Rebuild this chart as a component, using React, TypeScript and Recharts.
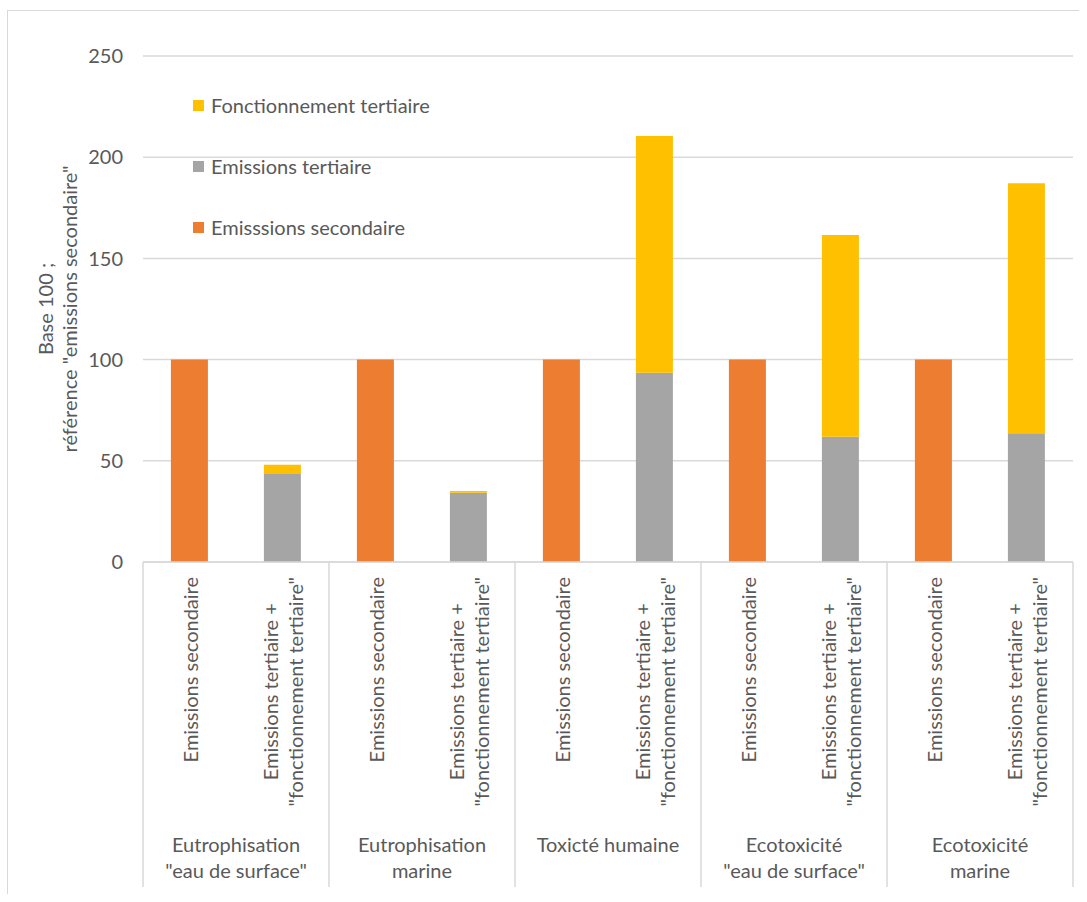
import { Bar, BarChart, CartesianGrid, Legend, XAxis, YAxis } from "recharts";

const groups = [
  "Eutrophisation\n\"eau de surface\"",
  "Eutrophisation\nmarine",
  "Toxicté humaine",
  "Ecotoxicité\n\"eau de surface\"",
  "Ecotoxicité\nmarine",
];
const subLabels = ["Emissions secondaire", "Emissions tertiaire +\n\"fonctionnement tertiaire\""];

const emissionsSecondaire = [100, 100, 100, 100, 100];
const emissionsTertiaire = [43.5, 34.2, 93.5, 61.9, 63.6];
const fonctionnementTertiaire = [4.5, 0.9, 117, 99.7, 123.5];

const yTicks = [0, 50, 100, 150, 200, 250];
const legendOrder = ["Fonctionnement tertiaire", "Emissions tertiaire", "Emisssions secondaire"];

const data = groups.flatMap((g, i) => [
  { group: g, label: subLabels[0], secondaire: emissionsSecondaire[i], tertiaire: null, fonctionnement: null },
  { group: g, label: subLabels[1], secondaire: null, tertiaire: emissionsTertiaire[i], fonctionnement: fonctionnementTertiaire[i] },
]);

const FONT = "Lato, 'Noto Sans', sans-serif";
const TXT = "#595959";
const GRID = "#D9D9D9";
const FS = 20;

let ctx: CanvasRenderingContext2D | null = null;
function measure(s: string, size: number) {
  if (!ctx) ctx = document.createElement("canvas").getContext("2d");
  if (!ctx) return s.length * size * 0.5;
  ctx.font = `${size}px Lato`;
  return ctx.measureText(s).width;
}

function CategoryTick(props: any) {
  const { x, y, payload, index } = props;
  const half = payload.offset ?? 46.5;
  const lines = String(payload.value).split("\n");
  const maxW = Math.max(...lines.map((l) => measure(l, FS)));
  const cy = y + 15 + maxW / 2;
  const grp = data[index]?.group ?? "";
  const first = index % 2 === 0;
  return (
    <g>
      <text
        transform={`translate(${x},${cy}) rotate(-90)`}
        textAnchor="middle"
        fontFamily={FONT}
        fontSize={FS}
        fill={TXT}
      >
        {lines.map((l, k) => (
          <tspan key={k} x={0} y={(k - (lines.length - 1) / 2) * 25} dominantBaseline="central">
            {l}
          </tspan>
        ))}
      </text>
      {first && (
        <>
          <line x1={x - half} x2={x - half} y1={y} y2={y + 325} stroke={GRID} strokeWidth={1.5} />
          <text textAnchor="middle" fontFamily={FONT} fontSize={FS} fill={TXT}>
            {grp.split("\n").map((l, k) => (
              <tspan key={k} x={x + half} y={y + 282 + k * 26} dominantBaseline="central">
                {l}
              </tspan>
            ))}
          </text>
        </>
      )}
      {index === data.length - 1 && (
        <line x1={x + half} x2={x + half} y1={y} y2={y + 325} stroke={GRID} strokeWidth={1.5} />
      )}
    </g>
  );
}

function YTitle(props: any) {
  const vb = props.viewBox;
  const cy = vb.y + vb.height / 2;
  return (
    <g fontFamily={FONT} fontSize={FS} fill={TXT}>
      <text transform={`translate(${vb.x + 37},${cy}) rotate(-90)`} textAnchor="middle" dominantBaseline="central">
        Base 100 ;
      </text>
      <text transform={`translate(${vb.x + 61},${cy}) rotate(-90)`} textAnchor="middle" dominantBaseline="central">
        référence "emissions secondaire"
      </text>
    </g>
  );
}

function LegendBox(props: any) {
  const items = [...(props.payload ?? [])].sort(
    (a: any, b: any) => legendOrder.indexOf(a.value) - legendOrder.indexOf(b.value)
  );
  return (
    <div style={{ fontFamily: FONT, fontSize: FS, color: TXT }}>
      {items.map((it: any) => (
        <div key={it.value} style={{ display: "flex", alignItems: "center", height: 20, marginBottom: 41 }}>
          <span style={{ width: 11, height: 11, background: it.color, marginRight: 7, display: "inline-block" }} />
          <span>{it.value}</span>
        </div>
      ))}
    </div>
  );
}

export default function App() {
  return (
    <div
      style={{
        position: "absolute",
        left: 7,
        top: 10,
        width: 1071,
        height: 883,
        borderLeft: `1px solid ${GRID}`,
        borderTop: `1px solid ${GRID}`,
        background: "#fff",
      }}
    >
      <BarChart
        width={1071}
        height={883}
        data={data}
        margin={{ top: 45, right: 6, bottom: 5, left: 0 }}
        barCategoryGap="30%"
      >
        <CartesianGrid vertical={false} stroke={GRID} strokeWidth={1.5} />
        <XAxis
          dataKey="label"
          interval={0}
          height={327}
          tickLine={false}
          tickSize={0}
          tickMargin={0}
          axisLine={{ stroke: GRID, strokeWidth: 1.5 }}
          tick={<CategoryTick />}
        />
        <YAxis
          domain={[0, 250]}
          ticks={yTicks}
          width={135}
          axisLine={false}
          tickLine={false}
          tickMargin={14}
          tick={{ fill: TXT, fontSize: FS, fontFamily: FONT }}
          label={<YTitle />}
        />
        <Legend
          layout="vertical"
          verticalAlign="middle"
          align="center"
          content={<LegendBox />}
          wrapperStyle={{ left: 185, top: 84, width: 320, height: 160 }}
        />
        <Bar dataKey="secondaire" name="Emisssions secondaire" stackId="a" fill="#ED7D31" isAnimationActive={false} />
        <Bar dataKey="tertiaire" name="Emissions tertiaire" stackId="a" fill="#A5A5A5" isAnimationActive={false} />
        <Bar dataKey="fonctionnement" name="Fonctionnement tertiaire" stackId="a" fill="#FFC000" isAnimationActive={false} />
      </BarChart>
    </div>
  );
}
